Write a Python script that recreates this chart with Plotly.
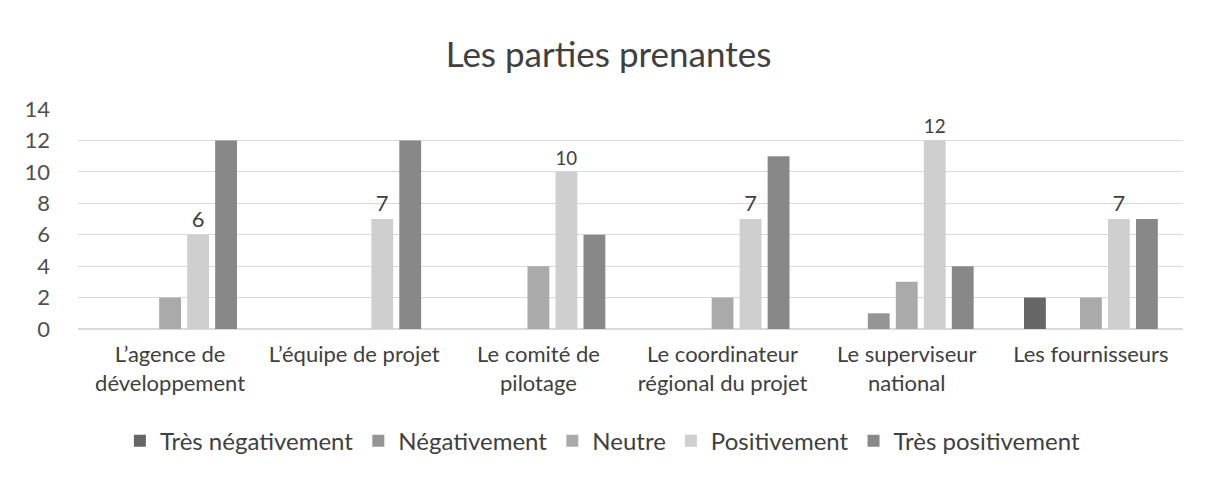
import plotly.graph_objects as go

FONT_FAMILY = "Lato, 'Open Sans', sans-serif"

categories = [
    "L’agence de<br>développement",
    "L’équipe de projet",
    "Le comité de<br>pilotage",
    "Le coordinateur<br>régional du projet",
    "Le superviseur<br>national",
    "Les fournisseurs",
]

tres_negativement = [0, 0, 0, 0, 0, 2]
negativement = [0, 0, 0, 0, 1, 0]
neutre = [2, 0, 4, 2, 3, 2]
positivement = [6, 7, 10, 7, 12, 7]
tres_positivement = [12, 12, 6, 11, 4, 7]

series = [
    ("Très négativement", tres_negativement, "#666666"),
    ("Négativement", negativement, "#959595"),
    ("Neutre", neutre, "#aaaaaa"),
    ("Positivement", positivement, "#cfcfcf"),
    ("Très positivement", tres_positivement, "#888888"),
]

fig = go.Figure()
for name, values, color in series:
    show_labels = name == "Positivement"
    fig.add_trace(go.Bar(
        x=categories, y=values, name=name,
        marker=dict(color=color, line=dict(width=0)),
        text=values if show_labels else None,
        textposition="outside" if show_labels else "none",
        textfont=dict(family=FONT_FAMILY, size=22, color="#404040"),
        cliponaxis=False,
    ))

# top gridline is not drawn in the original
fig.add_shape(type="line", xref="paper", x0=0, x1=1, yref="y", y0=14, y1=14,
              line=dict(color="white", width=3), layer="above")

fig.update_layout(
    barmode="group",
    bargap=0.24,
    bargroupgap=0.22,
    width=1201, height=472,
    paper_bgcolor="white", plot_bgcolor="white",
    font=dict(family=FONT_FAMILY, color="#404040"),
    title=dict(text="Les parties prenantes", x=0.5, xanchor="center",
               y=0.9, yanchor="middle",
               font=dict(family=FONT_FAMILY, size=35, color="#404040")),
    margin=dict(l=70, r=26, t=101, b=151),
    legend=dict(orientation="h", x=0.475, xanchor="center", y=-0.51,
                yanchor="middle", font=dict(size=24, color="#404040"),
                itemwidth=30, traceorder="normal"),
    xaxis=dict(tickfont=dict(size=22, color="#404040"), showline=False,
               ticks="", automargin=False, ticklabelstandoff=10),
    yaxis=dict(range=[0, 14], dtick=2, showgrid=True, gridcolor="#d9d9d9",
               gridwidth=1, zeroline=True, zerolinecolor="#d9d9d9",
               tickfont=dict(size=22, color="#505050"), ticks="",
               ticklabelstandoff=27, automargin=False),
)

fig.write_html("out.html")
